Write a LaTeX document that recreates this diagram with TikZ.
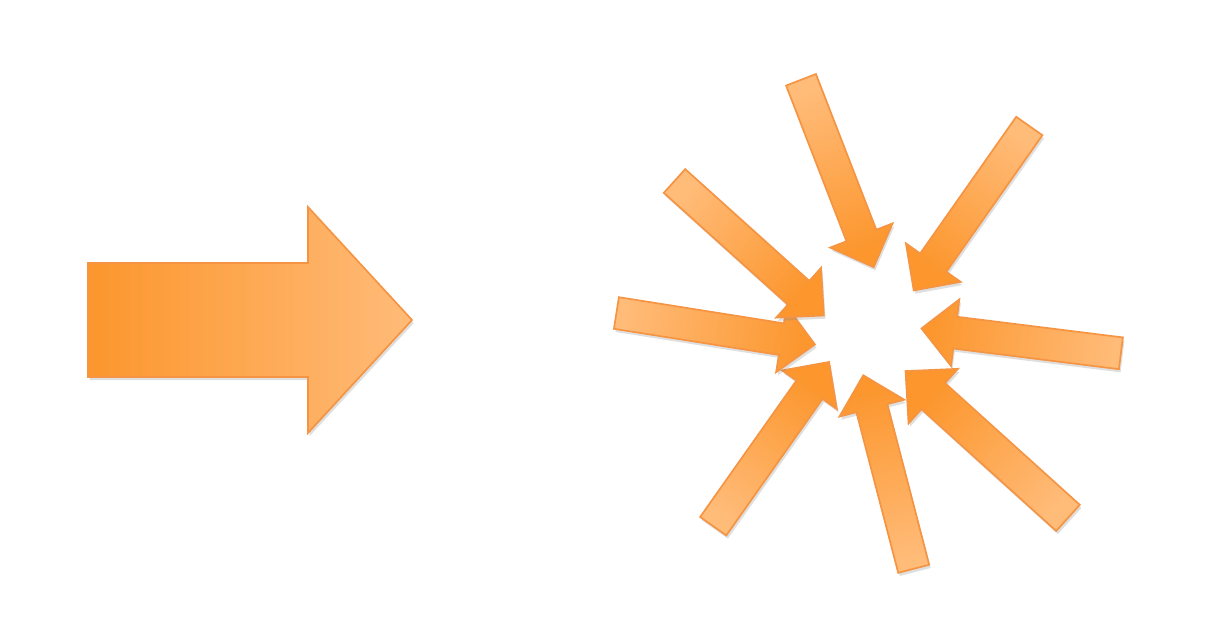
\documentclass[tikz,border=0pt]{standalone}
\usetikzlibrary{shadows}
\definecolor{arrowdark}{RGB}{252,150,45}
\definecolor{arrowlight}{RGB}{255,187,120}
\definecolor{arrowedge}{RGB}{245,148,66}
\begin{document}
\begin{tikzpicture}[x=0.025cm,y=-0.025cm,
  blockarrow/.style={draw=arrowedge, line width=1.2pt, line join=miter,
    drop shadow={opacity=0.25, shadow xshift=0.4mm, shadow yshift=-0.8mm}}]

\useasboundingbox (0,0) rectangle (1209,624);

%draw big arrow
\draw[blockarrow, left color=arrowdark, right color=arrowlight]
  (88,263) -- (308,263) -- (308,207) -- (412,320) -- (308,433) -- (308,377) -- (88,377) -- cycle;

%draw small arrows round the middle
\foreach \x/\y/\a/\len/\s in {801/79.8/-68.8/201/1, 1029.3/126/-125.1/201/1,
  1120.9/353.3/172.9/201/1, 1068/517.9/137.9/219/1.1, 913.7/568.8/104.6/200/1,
  713.2/526.2/54.8/201/1, 616.4/313/-9.0/201/1, 674.5/181/-42.0/201/1}
{
\pgfmathsetmacro\sang{\a-90}
\pgfmathsetmacro\hb{\len-34*\s}
\begin{scope}[shift={(\x,\y)}, rotate=\a]
\draw[blockarrow, top color=arrowdark, bottom color=arrowlight, shading angle=\sang]
  (0,-16*\s) -- (\hb,-16*\s) -- (\hb,-33.5*\s) -- (\len,0) -- (\hb,33.5*\s) -- (\hb,16*\s) -- (0,16*\s) -- cycle;
\end{scope}
}
\end{tikzpicture}
\end{document}
